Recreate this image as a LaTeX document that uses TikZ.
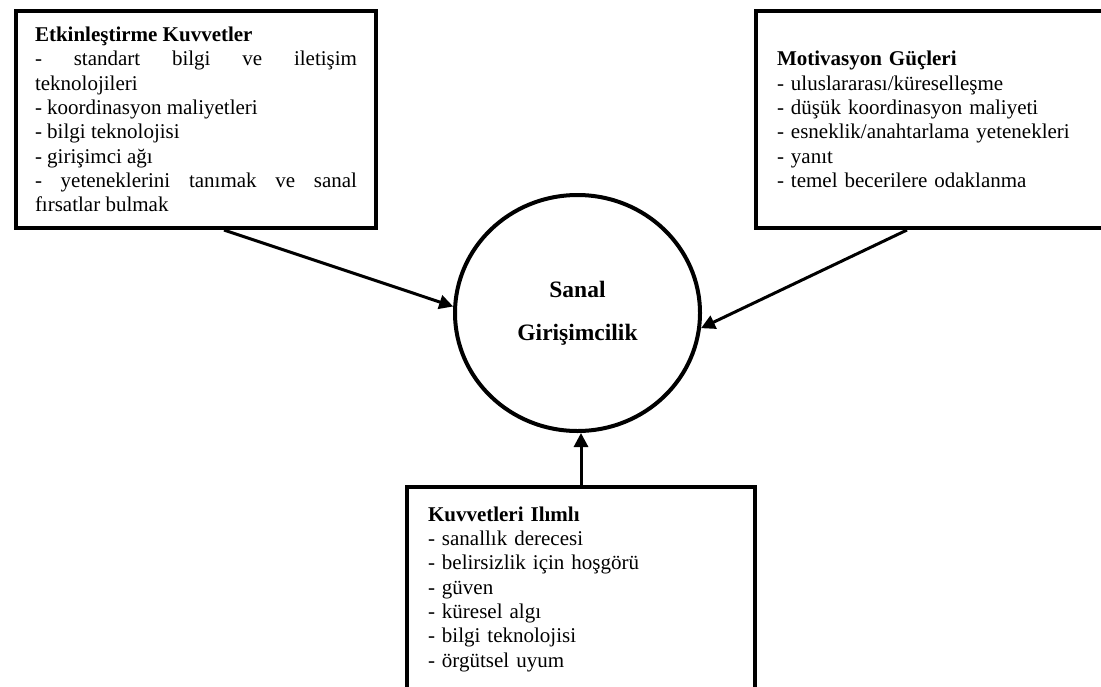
\documentclass[tikz,border=0pt]{standalone}
\usepackage{fontspec}
\setmainfont{Liberation Serif}
\usetikzlibrary{arrows.meta, shapes.geometric}

\begin{document}
\begin{tikzpicture}[x=1pt, y=-1pt,
  forcebox/.style={draw, line width=4pt, inner xsep=21pt, anchor=north west,
    font=\fontsize{21}{24.3}\selectfont},
  pointer/.style={line width=3pt, -{Triangle[length=14pt, width=14pt]}}]
  \useasboundingbox (0,0) rectangle (1101,686);
  \clip (0,0) rectangle (1101,686);
  \node[forcebox, text width=322pt, inner xsep=19pt, align=justify, minimum height=217pt] (enab) at (14,9) {
    \textbf{Etkinleştirme Kuvvetler}\\
    - standart bilgi ve iletişim\linebreak teknolojileri\\
    - koordinasyon maliyetleri\\
    - bilgi teknolojisi\\
    - girişimci ağı\\
    - yeteneklerini tanımak ve sanal\linebreak fırsatlar bulmak
  };
  \node[forcebox, text width=314pt, align=left, minimum height=217pt] (motiv) at (754,9) {
    \textbf{Motivasyon Güçleri}\\
    - uluslararası/küreselleşme\\
    - düşük koordinasyon maliyeti\\
    - esneklik/anahtarlama yetenekleri\\
    - yanıt\\
    - temel becerilere odaklanma
  };
  \node[forcebox, text width=306pt, align=left, inner ysep=19.7pt] (ilim) at (405,485) {
    \textbf{Kuvvetleri Ilımlı}\\
    - sanallık derecesi\\
    - belirsizlik için hoşgörü\\
    - güven\\
    - küresel algı\\
    - bilgi teknolojisi\\
    - örgütsel uyum
  };
  \node[ellipse, draw, line width=4pt, minimum width=245pt, minimum height=236pt, align=center,
    font=\bfseries\fontsize{23.5}{42.7}\selectfont] (sanal) at (577.5,313) {Sanal\\Girişimcilik};

  \draw[pointer] ([xshift=28pt]enab.south) -- (sanal.177);
  \draw[pointer] ([xshift=-27pt]motiv.south) -- (sanal.353);
  \draw[pointer] (ilim.north) -- (ilim.north |- sanal.south);
\end{tikzpicture}
\end{document}
